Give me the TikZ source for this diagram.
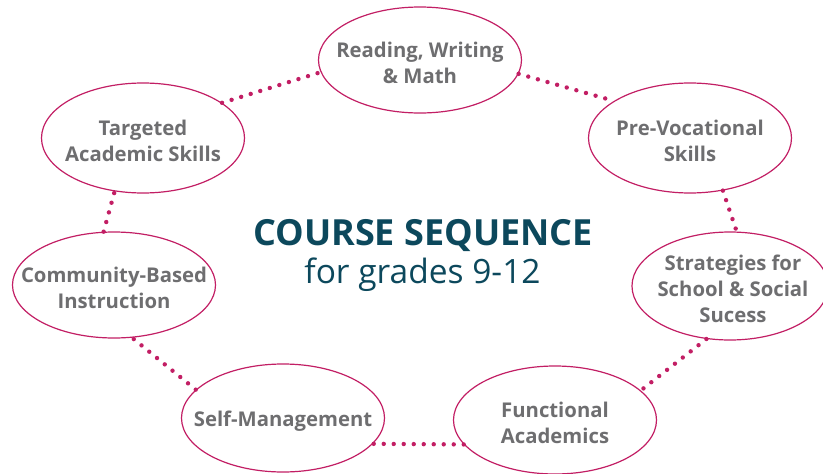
\documentclass[tikz,border=0pt]{standalone}
\usepackage{fontspec}
\setmainfont{Open Sans}
\usetikzlibrary{shapes.geometric}
\definecolor{rasp}{RGB}{194,30,100}
\definecolor{txtgray}{RGB}{110,110,112}
\definecolor{titleteal}{RGB}{12,72,92}
\begin{document}
\begin{tikzpicture}[x=1pt,y=-1pt,
  topic/.style={ellipse, draw=rasp, line width=1.2pt, minimum width=203pt, minimum height=108pt, inner sep=0pt},
  topictext/.style={align=center, inner sep=0pt, font=\fontsize{20.3}{26.3}\selectfont\bfseries, text=txtgray, yshift=-3pt},
  link/.style={draw=rasp, line width=4.4pt, line cap=round, dash pattern=on 0pt off 10pt}]
\useasboundingbox (0,0) rectangle (823,474);

\node[topic, minimum height=106pt] (read) at (420,60) {};
\node[topictext] (readt) at (read) {Reading, Writing\\\& Math};

\node[topic, minimum height=110pt] (prevoc) at (690,138) {};
\node[topictext] (prevoct) at (prevoc) {Pre-Vocational\\Skills};

\node[topic, minimum width=196pt] (strat) at (730,286) {};
\node[topictext] (stratt) at (733,286) {Strategies for\\School \& Social\\Sucess};

\node[topic] (func) at (555,420) {};
\node[topictext] (funct) at (func) {Functional\\Academics};

\node[topic] (self) at (283,418) {};
\node[topictext] (selft) at (self) {Self-Management};

\node[topic, minimum height=106pt] (comm) at (114,285) {};
\node[topictext] (commt) at (comm) {Community-Based\\Instruction};

\node[topic, minimum height=110pt] (targ) at (143,138) {};
\node[topictext] (targt) at (targ) {Targeted\\Academic Skills};

\node[anchor=base, inner sep=0pt, text=titleteal, font=\bfseries\fontsize{36}{36}\selectfont] (title) at (423,245.5) {COURSE SEQUENCE};
\node[anchor=base, inner sep=0pt, text=titleteal, font=\fontsize{33.5}{33.5}\selectfont] (subtitle) at (422.5,283) {for grades 9-12};

\draw[link] (targ.24) -- (read.187);
\draw[link] (read.-8) -- (prevoc.154);
\draw[link] (prevoc.-58) -- (strat.83);
\draw[link] (strat.246) -- (func.19);
\draw[link] (func.195) -- (self.-16);
\draw[link] (self.162) -- (comm.-71);
\draw[link] (comm.101) -- (targ.-118);
\end{tikzpicture}
\end{document}
